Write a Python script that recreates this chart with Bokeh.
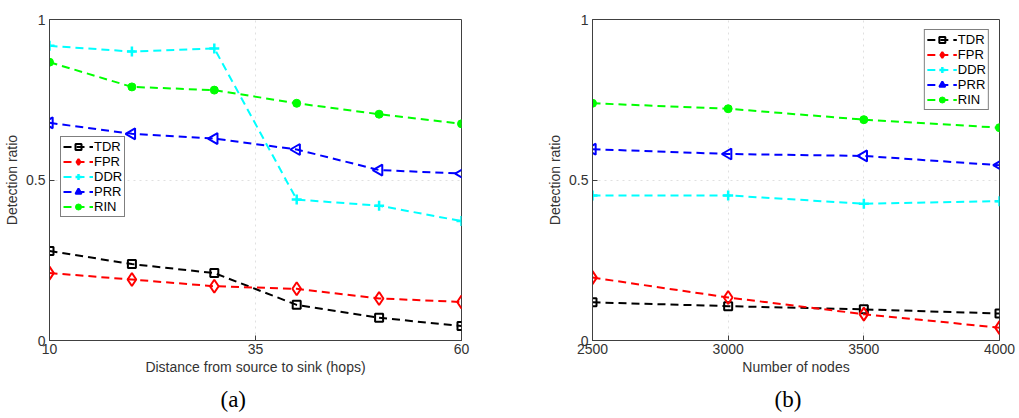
import math
from bokeh.plotting import figure
from bokeh.layouts import row
from bokeh.models import Range1d, FixedTicker, Title, Legend
from bokeh.embed import file_html
from bokeh.resources import INLINE

# ---- data ----
series_names = ["TDR", "FPR", "DDR", "PRR", "RIN"]
series_colors = ["#000000", "#ff0000", "#00ffff", "#0000ff", "#00ff00"]

hops = [10, 20, 30, 40, 50, 60]
a_TDR = [0.279, 0.238, 0.210, 0.111, 0.071, 0.045]
a_FPR = [0.210, 0.190, 0.169, 0.161, 0.131, 0.120]
a_DDR = [0.918, 0.900, 0.910, 0.439, 0.420, 0.372]
a_PRR = [0.678, 0.644, 0.629, 0.595, 0.531, 0.520]
a_RIN = [0.867, 0.790, 0.780, 0.739, 0.705, 0.675]

nodes = [2500, 3000, 3500, 4000]
b_TDR = [0.119, 0.107, 0.097, 0.084]
b_FPR = [0.196, 0.134, 0.082, 0.040]
b_DDR = [0.452, 0.452, 0.426, 0.434]
b_PRR = [0.596, 0.581, 0.575, 0.546]
b_RIN = [0.739, 0.722, 0.688, 0.663]

y_ticks = [0, 0.5, 1]
a_x_ticks = [10, 35, 60]
b_x_ticks = [2500, 3000, 3500, 4000]

FONT = "Liberation Sans"
AXC = "#404040"
TXC = "#333333"


def style(p, xticks):
    p.xaxis.ticker = FixedTicker(ticks=xticks)
    p.yaxis.ticker = FixedTicker(ticks=y_ticks)
    p.yaxis.major_label_overrides = {0: "0", 0.5: "0.5", 1: "1"}
    for ax in (p.xaxis, p.yaxis):
        ax.major_tick_in = 5
        ax.major_tick_out = 0
        ax.minor_tick_line_color = None
        ax.axis_line_color = AXC
        ax.major_tick_line_color = AXC
        ax.major_label_text_font = FONT
        ax.major_label_text_font_size = "14px"
        ax.major_label_text_color = TXC
        ax.axis_label_text_font = FONT
        ax.axis_label_text_font_size = "14px"
        ax.axis_label_text_font_style = "normal"
        ax.axis_label_text_color = TXC
    p.xaxis.major_label_standoff = 3
    p.yaxis.major_label_standoff = 4
    p.xaxis.axis_label_standoff = 2
    p.yaxis.axis_label_standoff = 3
    p.grid.grid_line_color = "#e0e0e0"
    p.grid.grid_line_dash = "dotted"
    p.outline_line_color = AXC
    p.outline_line_alpha = 1.0
    p.background_fill_color = "white"
    p.border_fill_color = "white"


def draw(p, xs, ys_list):
    items = []
    for name, color, ys in zip(series_names, series_colors, ys_list):
        rs = []
        rs.append(p.line(xs, ys, line_color=color, line_width=2, line_dash="8 5"))
        if name == "TDR":
            rs.append(p.scatter(xs, ys, marker="square", size=8, line_color=color,
                                line_width=2, fill_alpha=0))
        elif name == "FPR":
            rs.append(p.scatter(xs, ys, marker="diamond", size=13, line_color=color,
                                line_width=2, fill_alpha=0))
        elif name == "DDR":
            rs.append(p.scatter(xs, ys, marker="cross", size=10, line_color=color,
                                line_width=2.5))
        elif name == "PRR":
            rs.append(p.scatter(xs, ys, marker="triangle", size=11, angle=math.pi / 2,
                                line_color=color, line_width=2, fill_alpha=0))
        else:
            rs.append(p.scatter(xs, ys, marker="circle", size=8, line_color=color,
                                fill_color=color))
        items.append((name, rs))
    leg = Legend(items=items)
    leg.label_text_font = FONT
    leg.label_text_font_size = "13px"
    leg.label_text_color = "#000000"
    leg.glyph_width = 30
    leg.glyph_height = 15
    leg.label_height = 15
    leg.label_standoff = 1
    leg.spacing = 0
    leg.padding = 2
    leg.margin = 0
    leg.border_line_color = "#000000"
    leg.border_line_width = 1
    leg.background_fill_alpha = 1
    return leg


# ---- panel (a) ----
p1 = figure(width=509, height=418, output_backend="svg", toolbar_location=None,
            x_range=Range1d(10, 60), y_range=Range1d(0, 1),
            min_border_left=49, min_border_right=48, min_border_top=16, min_border_bottom=77)
style(p1, a_x_ticks)
p1.xaxis.axis_label = "Distance from source to sink (hops)"
p1.yaxis.axis_label = "Detection ratio"
leg1 = draw(p1, hops, [a_TDR, a_FPR, a_DDR, a_PRR, a_RIN])
leg1.location = (11, 123)
p1.add_layout(leg1, "center")
p1.add_layout(Title(text="(a)", align="left", text_font="Liberation Serif",
                    text_font_size="23px", text_font_style="normal", text_color="#000000",
                    standoff=14, offset=171), "below")

# ---- panel (b) ----
p2 = figure(width=510, height=418, output_backend="svg", toolbar_location=None,
            x_range=Range1d(2500, 4000), y_range=Range1d(0, 1),
            min_border_left=83, min_border_right=20, min_border_top=19, min_border_bottom=77)
style(p2, b_x_ticks)
p2.xaxis.axis_label = "Number of nodes"
p2.yaxis.axis_label = "Detection ratio"
leg2 = draw(p2, nodes, [b_TDR, b_FPR, b_DDR, b_PRR, b_RIN])
leg2.location = "top_right"
leg2.margin = 10
p2.add_layout(leg2, "center")
p2.add_layout(Title(text="(b)", align="left", text_font="Liberation Serif",
                    text_font_size="23px", text_font_style="normal", text_color="#000000",
                    standoff=14, offset=182), "below")

layout = row(p1, p2)
open("out.html", "w").write(file_html(layout, INLINE))
